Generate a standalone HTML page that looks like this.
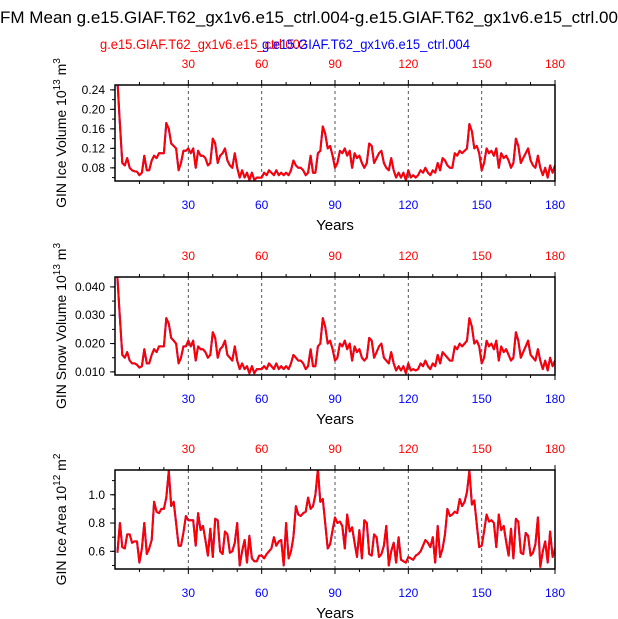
<!DOCTYPE html>
<html><head><meta charset="utf-8"><style>
body{margin:0;background:#fff;width:618px;height:619px;overflow:hidden}
svg{display:block;font-family:"Liberation Sans",sans-serif}
</style></head><body>
<svg id="chart" width="618" height="619" viewBox="0 0 618 619">
<text x="0" y="23" font-size="16.5" textLength="618" lengthAdjust="spacingAndGlyphs">FM Mean g.e15.GIAF.T62_gx1v6.e15_ctrl.004-g.e15.GIAF.T62_gx1v6.e15_ctrl.00</text>
<text x="100" y="49" font-size="14" fill="#f00" textLength="207" lengthAdjust="spacingAndGlyphs">g.e15.GIAF.T62_gx1v6.e15_ctrl.002</text>
<text x="262" y="49" font-size="14" fill="#00f" textLength="208" lengthAdjust="spacingAndGlyphs">g.e15.GIAF.T62_gx1v6.e15_ctrl.004</text>
<g id="plots"></g>
</svg>
<script>
const years=[];for(let i=1;i<=180;i++)years.push(i);
const xTicks=[30,60,90,120,150,180];
const volRed=[0.26,0.17,0.09,0.085,0.10,0.08,0.075,0.073,0.072,0.065,0.07,0.105,0.075,0.075,0.095,0.105,0.10,0.11,0.11,0.11,0.172,0.16,0.13,0.125,0.12,0.075,0.09,0.115,0.115,0.12,0.11,0.12,0.08,0.115,0.105,0.105,0.10,0.085,0.09,0.14,0.13,0.09,0.105,0.11,0.12,0.095,0.085,0.08,0.11,0.08,0.06,0.075,0.06,0.07,0.055,0.07,0.055,0.06,0.06,0.06,0.07,0.065,
0.075,0.07,0.065,0.075,0.065,0.07,0.065,0.07,0.065,0.075,0.095,0.085,0.08,0.08,0.075,0.065,0.07,0.105,0.07,0.07,0.11,0.115,0.165,0.15,0.12,0.125,0.105,0.08,0.09,0.115,0.11,0.12,0.105,0.115,0.08,0.11,0.10,0.105,0.09,0.08,0.09,0.13,0.125,0.09,0.10,0.11,0.115,0.09,0.08,0.075,0.10,0.075,0.06,0.07,0.06,0.07,0.055,0.075,0.06,0.065,0.06,0.065,
0.075,0.07,0.08,0.07,0.065,0.075,0.07,0.09,0.075,0.10,0.095,0.085,0.08,0.08,0.11,0.105,0.115,0.11,0.115,0.12,0.17,0.155,0.12,0.125,0.11,0.075,0.09,0.12,0.11,0.115,0.105,0.12,0.08,0.11,0.10,0.105,0.095,0.08,0.09,0.14,0.125,0.09,0.10,0.11,0.12,0.095,0.085,0.08,0.105,0.08,0.065,0.08,0.06,0.085,0.07,0.085];
const volBlue=volRed.map(v=>v);
const snowRed=[0.0435,0.029,0.016,0.015,0.017,0.014,0.013,0.013,0.0125,0.0115,0.012,0.018,0.013,0.013,0.016,0.018,0.017,0.019,0.019,0.019,0.029,0.027,0.022,0.021,0.020,0.013,0.015,0.019,0.019,0.021,0.019,0.021,0.014,0.019,0.018,0.018,0.017,0.015,0.016,0.024,0.022,0.015,0.018,0.019,0.021,0.016,0.015,0.014,0.019,0.014,0.011,0.013,0.011,0.012,0.0095,0.012,0.0095,0.011,0.011,0.011,0.012,0.011,
0.013,0.012,0.011,0.013,0.011,0.012,0.011,0.012,0.011,0.013,0.016,0.015,0.014,0.014,0.013,0.011,0.012,0.018,0.012,0.012,0.019,0.020,0.029,0.026,0.020,0.021,0.018,0.014,0.015,0.020,0.019,0.021,0.018,0.020,0.014,0.019,0.017,0.018,0.015,0.014,0.015,0.022,0.021,0.015,0.017,0.019,0.020,0.015,0.014,0.013,0.017,0.013,0.0105,0.012,0.0105,0.012,0.0095,0.013,0.0105,0.011,0.0105,0.011,
0.013,0.012,0.014,0.012,0.011,0.013,0.012,0.016,0.013,0.017,0.016,0.015,0.014,0.014,0.019,0.018,0.020,0.019,0.020,0.021,0.029,0.026,0.020,0.021,0.019,0.013,0.015,0.021,0.019,0.020,0.018,0.021,0.014,0.019,0.017,0.018,0.016,0.014,0.015,0.024,0.021,0.015,0.017,0.019,0.021,0.016,0.015,0.014,0.018,0.014,0.011,0.014,0.0105,0.015,0.012,0.014];
const snowBlue=snowRed.map(v=>v);
const areaRed=[0.59,0.80,0.63,0.62,0.72,0.72,0.66,0.67,0.67,0.52,0.62,0.80,0.58,0.62,0.68,0.95,0.88,0.87,0.90,0.90,0.98,1.17,0.92,0.95,0.80,0.64,0.64,0.73,0.85,0.82,0.82,0.82,0.64,0.87,0.75,0.78,0.68,0.57,0.76,0.56,0.83,0.82,0.60,0.58,0.74,0.72,0.59,0.60,0.66,0.80,0.50,0.60,0.68,0.52,0.71,0.55,0.53,0.53,0.57,0.57,0.55,0.58,
0.60,0.62,0.70,0.64,0.67,0.68,0.50,0.80,0.55,0.60,0.70,0.92,0.86,0.85,0.87,0.88,0.98,0.90,0.92,1.00,1.18,0.95,0.97,0.80,0.62,0.65,0.75,0.84,0.80,0.81,0.78,0.62,0.86,0.74,0.77,0.66,0.56,0.75,0.55,0.82,0.80,0.58,0.57,0.72,0.70,0.56,0.58,0.64,0.78,0.50,0.60,0.66,0.52,0.70,0.54,0.53,0.52,0.56,0.55,0.54,0.57,0.58,
0.60,0.64,0.68,0.66,0.63,0.70,0.52,0.78,0.56,0.62,0.72,0.90,0.85,0.86,0.88,0.87,0.97,0.92,0.95,1.02,1.17,0.93,0.96,0.79,0.63,0.64,0.74,0.86,0.81,0.82,0.80,0.63,0.86,0.75,0.78,0.67,0.57,0.76,0.55,0.83,0.81,0.59,0.58,0.73,0.71,0.57,0.59,0.65,0.84,0.49,0.60,0.67,0.52,0.74,0.56,0.62];
const areaBlue=areaRed.map(v=>v);
const panels=[
 {name:'ice-volume',top:85,bot:181,min:0.053,max:0.250,ticks:[0.08,0.12,0.16,0.20,0.24],fmt:2,minor:0.02,red:volRed,blue:volBlue,label:'GIN Ice Volume 10',sup:'13',unit:' m',usup:'3'},
 {name:'snow-volume',top:277,bot:375,min:0.0089,max:0.0435,ticks:[0.010,0.020,0.030,0.040],fmt:3,minor:0.005,red:snowRed,blue:snowBlue,label:'GIN Snow Volume 10',sup:'13',unit:' m',usup:'3'},
 {name:'ice-area',top:470,bot:569,min:0.475,max:1.175,ticks:[0.6,0.8,1.0],fmt:1,minor:0.1,red:areaRed,blue:areaBlue,label:'GIN Ice Area 10',sup:'12',unit:' m',usup:'2'}];
const NS='http://www.w3.org/2000/svg';
const g=document.getElementById('plots');
const X0=115,X1=555;
const xs=v=>X0+(v-0)/(180-0)*(X1-X0);
function mk(tag,attrs,parent){const e=document.createElementNS(NS,tag);for(const k in attrs)e.setAttribute(k,attrs[k]);(parent||g).appendChild(e);return e;}
panels.forEach(p=>{
 const ys=v=>p.bot-(v-p.min)/(p.max-p.min)*(p.bot-p.top);
 const pg=mk('g',{});
 
 
 const cid='clip-'+p.name;
 const cp=mk('clipPath',{id:cid},pg);mk('rect',{x:X0,y:p.top,width:X1-X0,height:p.bot-p.top},cp);
 for(let t=30;t<180;t+=30){const l=mk('line',{x1:xs(t),x2:xs(t),y1:p.top,y2:p.bot,stroke:'#555','stroke-dasharray':'3,3','stroke-width':1},pg);
  
  }
 [['blue',p.blue,'#00f'],['red',p.red,'#f00']].forEach(([n,arr,c])=>{
  const d=arr.map((v,i)=>(i?'L':'M')+xs(years[i]).toFixed(1)+','+ys(v).toFixed(1)).join('');
  const path=mk('path',{d:d,fill:'none',stroke:c,'stroke-width':2,'clip-path':'url(#'+cid+')','stroke-linejoin':'round'},pg);
  
  
 });
 const fr=mk('rect',{x:X0,y:p.top,width:X1-X0,height:p.bot-p.top,fill:'none',stroke:'#000','stroke-width':1.5},pg);
 
 
 for(let t=10;t<=180;t+=10){const maj=t%30==0;const L=maj?5:3;
  mk('line',{x1:xs(t),x2:xs(t),y1:p.top,y2:p.top-L,stroke:'#000'},pg);
  mk('line',{x1:xs(t),x2:xs(t),y1:p.bot,y2:p.bot+L,stroke:'#000'},pg);}
 xTicks.forEach(t=>{
  const a=mk('text',{x:xs(t),y:p.top-17,'font-size':12,fill:'#f00','text-anchor':'middle'},pg);a.textContent=t;
  
  
  const b=mk('text',{x:xs(t),y:p.bot+28,'font-size':12,fill:'#00f','text-anchor':'middle'},pg);b.textContent=t;
  
  
 });
 const xt=mk('text',{x:335,y:p.bot+49,'font-size':15,'text-anchor':'middle'},pg);xt.textContent='Years';
 
 
 for(let v=Math.ceil(p.min/p.minor)*p.minor;v<=p.max;v+=p.minor){mk('line',{x1:X0,x2:X0-3,y1:ys(v),y2:ys(v),stroke:'#000'},pg);}
 p.ticks.forEach(v=>{mk('line',{x1:X0,x2:X0-5,y1:ys(v),y2:ys(v),stroke:'#000'},pg);
  const t=mk('text',{x:X0-10,y:ys(v)+4,'font-size':12,'text-anchor':'end'},pg);t.textContent=v.toFixed(p.fmt);
  
  });
 const cy=(p.top+p.bot)/2;
 const yt=mk('text',{x:0,y:0,'font-size':14,'text-anchor':'middle',transform:'translate(66,'+cy+') rotate(-90)'},pg);
 
 
 const s1=mk('tspan',{},yt);s1.textContent=p.label;
 const s2=mk('tspan',{dy:-6,'font-size':10},yt);s2.textContent=p.sup;
 const s3=mk('tspan',{dy:6},yt);s3.textContent=p.unit;
 const s4=mk('tspan',{dy:-6,'font-size':10},yt);s4.textContent=p.usup;
});
</script>
</body></html>
